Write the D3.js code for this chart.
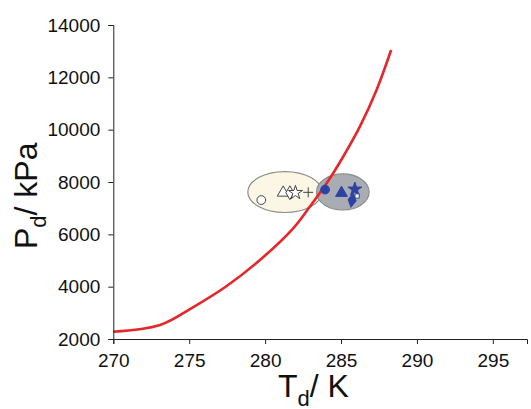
<!DOCTYPE html>
<html lang="en">
<meta charset="utf-8">
<title>Hydrate equilibrium</title>
<style>
	body { margin: 0; background: #fff; font-family: "Liberation Sans", Arial, sans-serif; }
	.axis text { font-size: 19px; fill: #111; font-family: "Liberation Sans", Arial, sans-serif; }
	.axis path, .axis line { stroke: #222; }
	.title { font-size: 32px; fill: #111; }
</style>
<body>
<script src="https://d3js.org/d3.v7.min.js"></script>
<svg class="chart"></svg>
<script>
// equilibrium curve
var curveT = [270, 273.08, 275.27, 277.47, 279.66, 281.85, 282.95, 284.05, 285.14, 286.24, 287.34, 288.3];
var curveP = [2279, 2535, 3220, 4025, 5019, 6230, 7060, 7950, 8966, 10113, 11515, 13043];

// experimental points (open = left group, filled = right group)
var ptNames = ["circle", "triangle", "diamond", "star", "plus", "circle", "triangle", "star", "diamond", "small"];
var ptT = [279.75, 281.19, 281.63, 282.0, 282.84, 283.95, 285.03, 285.91, 285.73, 286.06];
var ptP = [7310, 7590, 7590, 7590, 7605, 7710, 7580, 7720, 7300, 7465];
var ptFilled = [false, false, false, false, false, true, true, true, true, true];

// ellipses: centre T, centre P, half width (K), half height (kPa)
var ellT = [281.3, 285.12];
var ellP = [7617, 7620];
var ellRT = [2.44, 1.73];
var ellRP = [783, 690];
var ellFill = ["#fcf6e4", "#a9acb2"];

var xTicks = [270, 275, 280, 285, 290, 295];
var yTicks = [2000, 4000, 6000, 8000, 10000, 12000, 14000];

var W = 531, H = 409;
var svg = d3.select(".chart").attr("width", W).attr("height", H);

var x = d3.scaleLinear().domain([270, 297.25]).range([113.3, 527]);
var y = d3.scaleLinear().domain([2000, 14000]).range([339, 25]);

// ellipses
svg.selectAll(".ell")
	.data(ellT)
  .enter().append("ellipse")
	.attr("cx", function(d) { return x(d); })
	.attr("cy", function(d, i) { return y(ellP[i]); })
	.attr("rx", function(d, i) { return x(d + ellRT[i]) - x(d); })
	.attr("ry", function(d, i) { return y(ellP[i]) - y(ellP[i] + ellRP[i]); })
	.style("fill", function(d, i) { return ellFill[i]; })
	.style("stroke", "#8c8c8c")
	.style("stroke-width", 1.2);

// curve
var line = d3.line()
	.x(function(d) { return x(d); })
	.y(function(d, i) { return y(curveP[i]); })
	.curve(d3.curveCatmullRom.alpha(0.5));
svg.append("path")
	.attr("d", line(curveT))
	.style("fill", "none")
	.style("stroke", "#e5262b")
	.style("stroke-width", 2.6);

// markers
var symType = {
	circle: d3.symbolCircle, triangle: d3.symbolTriangle, diamond: d3.symbolDiamond,
	star: d3.symbolStar, plus: d3.symbolCross, small: d3.symbolSquare
};
var symSize = { circle: 60, triangle: 60, diamond: 55, star: 60, plus: 60, small: 18 };
var blue = "#2d43a3";
svg.selectAll(".pt")
	.data(ptT)
  .enter().append("path")
	.attr("transform", function(d, i) {
		var r = ptNames[i] == "diamond" && ptFilled[i] ? 10 : 0;
		return "translate(" + x(d) + "," + y(ptP[i]) + ") rotate(" + r + ")";
	})
	.attr("d", function(d, i) {
		if (ptNames[i] == "plus" ) {
			return "M-5,0H5M0,-5V5";
		}
		return d3.symbol().type(symType[ptNames[i]]).size(symSize[ptNames[i]])();
	})
	.style("fill", function(d, i) {
		if (ptNames[i] == "plus") return "none";
		if (ptNames[i] == "small") return "#fff";
		return ptFilled[i] ? blue : "#fff";
	})
	.style("stroke", function(d, i) { return ptFilled[i] ? blue : "#444"; })
	.style("stroke-width", 1);

// axes
var gx = svg.append("g").attr("class", "axis").attr("transform", "translate(0,339)");
gx.call(d3.axisBottom(x).tickValues(d3.range(270, 298, 1)).tickSize(3).tickFormat(""));
gx.call(d3.axisBottom(x).tickValues(xTicks).tickSize(5).tickPadding(8));
gx.selectAll("text").attr("dy", "0.78em");

var gy = svg.append("g").attr("class", "axis").attr("transform", "translate(113.3,0)");
gy.call(d3.axisLeft(y).tickValues(d3.range(2000, 14001, 500)).tickSize(3).tickFormat(""));
gy.call(d3.axisLeft(y).tickValues(yTicks).tickSize(5).tickPadding(8).tickFormat(d3.format("d")));

// axis titles
var xt = svg.append("text").attr("class", "title")
	.attr("x", 278).attr("y", 397);
xt.append("tspan").text("T");
xt.append("tspan").attr("dy", 9).style("font-size", "22px").text("d");
xt.append("tspan").attr("dy", -9).text("/ K");

var yt = svg.append("text").attr("class", "title")
	.attr("transform", "translate(37,249) rotate(-90)");
yt.append("tspan").text("P");
yt.append("tspan").attr("dy", 9).style("font-size", "22px").text("d");
yt.append("tspan").attr("dy", -9).text("/ kPa");
</script>
</body>
</html>
